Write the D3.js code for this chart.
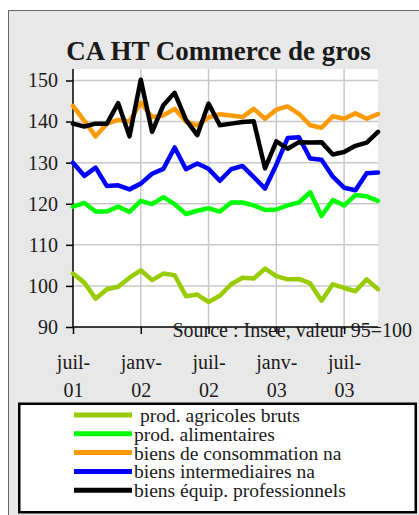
<!DOCTYPE html>
<html>
<head>
<meta charset="utf-8">
<script src="https://cdn.jsdelivr.net/npm/d3@7"></script>
<style>
  html, body { margin: 0; padding: 0; background: #ffffff; }
  svg { display: block; }
  text { font-family: "Liberation Serif", "Times New Roman", serif; fill: #1a1a1a; }
</style>
</head>
<body>
<svg id="chart" width="419" height="515"></svg>
<script>
// Monthly categories, July 2001 to October 2003
const months = [
  "juil-01","août-01","sept-01","oct-01","nov-01","déc-01",
  "janv-02","févr-02","mars-02","avr-02","mai-02","juin-02",
  "juil-02","août-02","sept-02","oct-02","nov-02","déc-02",
  "janv-03","févr-03","mars-03","avr-03","mai-03","juin-03",
  "juil-03","août-03","sept-03","oct-03"
];

// Turnover indices (base 95 = 100)
const agricoles = [103.0,100.8,96.9,99.2,99.8,102.0,103.8,101.4,103.0,102.6,97.5,97.9,96.1,97.6,
                   100.4,102.0,101.8,104.2,102.4,101.6,101.7,100.6,96.4,100.4,99.5,98.7,101.6,99.2];
const alimentaires = [119.3,120.2,118.1,118.1,119.3,118.0,120.7,119.9,121.6,119.9,117.5,118.3,118.9,118.1,
                      120.3,120.3,119.6,118.5,118.6,119.6,120.3,122.8,117.0,120.9,119.6,122.1,121.8,120.7];
const consommation = [143.8,140.2,136.4,139.5,140.4,140.0,144.6,141.1,141.5,143.1,140.0,139.1,141.0,141.8,
                      141.5,141.1,143.1,140.7,142.9,143.7,141.9,139.1,138.5,141.3,140.7,142.0,140.7,141.8];
const intermediaires = [130.0,126.8,128.8,124.3,124.5,123.5,124.9,127.3,128.5,133.7,128.4,129.8,128.5,125.6,
                        128.4,129.2,126.5,123.7,129.5,136.0,136.2,131.0,130.7,126.6,123.9,123.3,127.4,127.6];
const equipement = [139.5,138.8,139.5,139.5,144.5,136.4,150.2,137.5,144.0,147.0,140.4,136.7,144.4,139.1,
                    139.5,139.9,140.1,128.6,135.2,133.4,135.0,134.9,135.0,132.0,132.6,134.1,134.9,137.5];

const seriesNames = ["prod. agricoles bruts","prod. alimentaires","biens de consommation na",
                     "biens intermediaires na","biens équip. professionnels"];
const seriesColors = ["#99cc00","#00ff00","#ff9900","#0000ff","#000000"];
const seriesValues = [agricoles, alimentaires, consommation, intermediaires, equipement];

const yTicks = [90,100,110,120,130,140,150];
const xTickMonths = ["juil-01","janv-02","juil-02","janv-03","juil-03"];

const title = "CA HT Commerce de gros";
const sourceNote = "Source : Insee, valeur 95=100";

const serif = "'Liberation Serif', 'Times New Roman', serif";
const svg = d3.select("#chart");

// chart frame
svg.append("rect")
  .attr("x", 8.5).attr("y", 10.5).attr("width", 500).attr("height", 600)
  .attr("fill", "#e8e8e8").attr("stroke", "#666").attr("stroke-width", 1);

const plot = { left: 73, right: 378, top: 69, bottom: 327 };

const x = d3.scalePoint().domain(months).range([plot.left, plot.right]).padding(0);
const y = d3.scaleLinear().domain([90, 152.8]).range([plot.bottom, plot.top]);

// plot background
svg.append("rect")
  .attr("x", plot.left).attr("y", plot.top)
  .attr("width", plot.right - plot.left).attr("height", plot.bottom - plot.top)
  .attr("fill", "#ffffff");

// gridlines
const grid = svg.append("g").attr("stroke", "#c8c8c8").attr("stroke-width", 1.5);
grid.selectAll("line.h").data(yTicks.filter(d => d > 90)).join("line")
  .attr("x1", plot.left).attr("x2", plot.right)
  .attr("y1", d => y(d)).attr("y2", d => y(d));
grid.selectAll("line.v").data(xTickMonths.slice(1)).join("line")
  .attr("x1", d => x(d)).attr("x2", d => x(d))
  .attr("y1", plot.top).attr("y2", plot.bottom);

// axes
const yAxis = svg.append("g")
  .attr("transform", `translate(${plot.left},0)`)
  .call(d3.axisLeft(y).tickValues(yTicks).tickSize(7).tickPadding(8).tickFormat(d3.format("d")))
  .attr("font-family", serif);
yAxis.select(".domain").attr("d", `M0,${plot.top}V${plot.bottom}`).attr("stroke", "#000").attr("stroke-width", 1.5);
yAxis.selectAll(".tick line").attr("stroke", "#000").attr("stroke-width", 1.5);
yAxis.selectAll(".tick text").attr("font-size", 20).attr("fill", "#1a1a1a");

const xAxis = svg.append("g")
  .attr("transform", `translate(0,${plot.bottom})`)
  .call(d3.axisBottom(x).tickValues(xTickMonths).tickSize(7).tickFormat(""))
  .attr("font-family", serif);
xAxis.select(".domain").attr("d", `M${plot.left},0H${plot.right}`).attr("stroke", "#000").attr("stroke-width", 1.5);
xAxis.selectAll(".tick line").attr("stroke", "#000").attr("stroke-width", 1.5);
xAxis.selectAll(".tick").each(function(d) {
  const parts = d.split("-");
  const t = d3.select(this).append("text")
    .attr("text-anchor", "middle").attr("font-size", 20).attr("fill", "#1a1a1a");
  t.append("tspan").attr("x", 0).attr("y", 42).text(parts[0] + "-");
  t.append("tspan").attr("x", 0).attr("y", 70).text(parts[1]);
});

// series lines
const line = d3.line().x((d, i) => x(months[i])).y(d => y(d));
svg.append("g").selectAll("path").data(seriesValues).join("path")
  .attr("d", d => line(d))
  .attr("fill", "none")
  .attr("stroke", (d, i) => seriesColors[i])
  .attr("stroke-width", 4.5)
  .attr("stroke-linejoin", "round")
  .attr("stroke-linecap", "round");

// title
svg.append("text")
  .attr("x", 218.5).attr("y", 60)
  .attr("text-anchor", "middle")
  .attr("font-size", 27).attr("font-weight", "bold")
  .text(title);

// source note
svg.append("text")
  .attr("x", 412).attr("y", 337)
  .attr("text-anchor", "end")
  .attr("font-size", 20)
  .text(sourceNote);

// legend
const legend = svg.append("g");
legend.append("rect")
  .attr("x", 19.25).attr("y", 403.75).attr("width", 396.5).attr("height", 108.5)
  .attr("fill", "#ffffff").attr("stroke", "#000").attr("stroke-width", 2.5);
const rowY = i => 415 + i * 18.8;
legend.selectAll("line").data(seriesNames).join("line")
  .attr("x1", 74).attr("x2", 132)
  .attr("y1", (d, i) => rowY(i)).attr("y2", (d, i) => rowY(i))
  .attr("stroke", (d, i) => seriesColors[i]).attr("stroke-width", 5);
legend.selectAll("text").data(seriesNames).join("text")
  .attr("x", (d, i) => i === 0 ? 140 : 134)
  .attr("y", (d, i) => rowY(i) + 7)
  .attr("font-size", 19.5)
  .text(d => d);
</script>
</body>
</html>
